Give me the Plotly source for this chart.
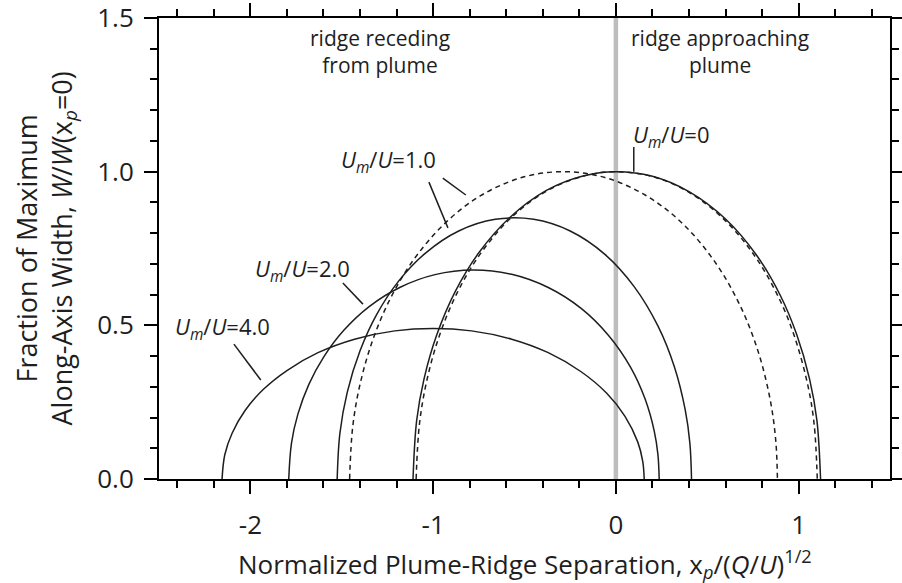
import plotly.graph_objects as go

# Along-axis width profiles W/W(x_p=0) vs normalized plume-ridge separation
# Um/U = 0 (solid)
x_u0 = [-1.11, -1.09, -1.05, -0.98, -0.88, -0.75, -0.58, -0.38, -0.18, 0.0,
        0.2, 0.4, 0.6, 0.77, 0.9, 0.99, 1.06, 1.10, 1.12]
w_u0 = [0.0, 0.191, 0.325, 0.469, 0.609, 0.736, 0.851, 0.939, 0.986, 1.0,
        0.985, 0.935, 0.846, 0.728, 0.597, 0.469, 0.325, 0.191, 0.0]

# companion dashed profile lying just inside Um/U = 0
x_u0d = [-1.093, -1.075, -1.035, -0.97, -0.87, -0.74, -0.57, -0.37, -0.17, 0.0,
         0.2, 0.4, 0.6, 0.77, 0.9, 0.98, 1.05, 1.085, 1.102]
w_u0d = [0.0, 0.178, 0.319, 0.459, 0.604, 0.734, 0.852, 0.940, 0.987, 1.0,
         0.984, 0.933, 0.840, 0.717, 0.579, 0.459, 0.306, 0.178, 0.0]

# Um/U = 1.0 (dashed)
x_u1d = [-1.457, -1.44, -1.40, -1.33, -1.23, -1.10, -0.93, -0.74, -0.52, -0.29,
         -0.06, 0.16, 0.36, 0.54, 0.68, 0.78, 0.845, 0.875, 0.884]
w_u1d = [0.0, 0.170, 0.308, 0.453, 0.592, 0.719, 0.835, 0.922, 0.980, 1.0,
         0.981, 0.924, 0.834, 0.708, 0.564, 0.412, 0.256, 0.124, 0.0]

# Um/U = 1.0 (solid)
x_u1 = [-1.525, -1.51, -1.47, -1.40, -1.31, -1.19, -1.04, -0.86, -0.66, -0.45,
        -0.25, -0.06, 0.1, 0.23, 0.32, 0.38, 0.405, 0.414]
w_u1 = [0.0, 0.149, 0.282, 0.417, 0.534, 0.643, 0.736, 0.807, 0.845, 0.845,
        0.807, 0.731, 0.626, 0.498, 0.365, 0.223, 0.116, 0.0]

# Um/U = 2.0
x_u2 = [-1.79, -1.775, -1.74, -1.68, -1.60, -1.49, -1.35, -1.18, -0.99, -0.78,
        -0.57, -0.37, -0.19, -0.04, 0.08, 0.16, 0.21, 0.23, 0.237]
w_u2 = [0.0, 0.117, 0.211, 0.308, 0.396, 0.483, 0.561, 0.624, 0.665, 0.68,
        0.666, 0.623, 0.555, 0.467, 0.364, 0.260, 0.156, 0.080, 0.0]

# Um/U = 4.0
x_u4 = [-2.155, -2.14, -2.10, -2.03, -1.93, -1.80, -1.63, -1.43, -1.21, -1.0,
        -0.79, -0.57, -0.37, -0.19, -0.05, 0.05, 0.12, 0.147, 0.155]
w_u4 = [0.0, 0.079, 0.149, 0.222, 0.291, 0.353, 0.411, 0.455, 0.482, 0.49,
        0.482, 0.455, 0.411, 0.349, 0.279, 0.204, 0.120, 0.057, 0.0]

x_ticks = [-2, -1, 0, 1]
y_ticks = [0.0, 0.5, 1.0, 1.5]
y_ticklabels = ["0.0", "0.5", "1.0", "1.5"]

INK = "#1e1e1e"
FONT = "Open Sans"

fig = go.Figure()

# ridge position marker at x_p = 0
fig.add_trace(go.Scatter(x=[0, 0], y=[0, 1.5], mode="lines",
                         line=dict(color="#bdbdbd", width=4.5), hoverinfo="skip"))

curves = [
    (x_u0, w_u0, "solid"),
    (x_u0d, w_u0d, "5px,4px"),
    (x_u1d, w_u1d, "5px,4px"),
    (x_u1, w_u1, "solid"),
    (x_u2, w_u2, "solid"),
    (x_u4, w_u4, "solid"),
]
for xs, ys, dash in curves:
    fig.add_trace(go.Scatter(x=xs, y=ys, mode="lines",
                             line=dict(color=INK, width=1.5, dash=dash,
                                       shape="spline", smoothing=1.0)))

# leader lines from labels to curves
leaders = [
    (0.098, 1.0, 0.098, 1.08),
    (-1.023, 0.966, -0.919, 0.817),
    (-0.947, 0.979, -0.821, 0.924),
    (-1.494, 0.638, -1.384, 0.569),
    (-2.09, 0.439, -1.943, 0.322),
]
for x0, y0, x1, y1 in leaders:
    fig.add_shape(type="line", x0=x0, y0=y0, x1=x1, y1=y1, xref="x", yref="y",
                  line=dict(color=INK, width=1.5))

lab = dict(family=FONT, size=22, color=INK)
labels = [
    (0.305, 1.115, "<i>U<sub>m</sub></i>/<i>U</i>=0"),
    (-1.245, 1.035, "<i>U<sub>m</sub></i>/<i>U</i>=1.0"),
    (-1.715, 0.68, "<i>U<sub>m</sub></i>/<i>U</i>=2.0"),
    (-2.15, 0.49, "<i>U<sub>m</sub></i>/<i>U</i>=4.0"),
]
for x, y, t in labels:
    fig.add_annotation(x=x, y=y, text=t, showarrow=False, font=lab,
                       xanchor="center", yanchor="middle")

region_font = dict(family=FONT, size=21, color=INK)
fig.add_annotation(x=-1.29, y=1.39, text="ridge receding<br>from plume",
                   showarrow=False, font=region_font,
                   xanchor="center", yanchor="middle")
fig.add_annotation(x=0.57, y=1.39, text="ridge approaching<br>plume",
                   showarrow=False, font=region_font,
                   xanchor="center", yanchor="middle")

# axis titles
fig.add_annotation(xref="paper", yref="paper", x=0.5, y=0, yshift=-85,
                   text="Normalized Plume-Ridge Separation, x<sub><i>p</i></sub>/(<i>Q</i>/<i>U</i>)<sup>1/2</sup>",
                   showarrow=False, font=dict(family=FONT, size=26, color=INK),
                   xanchor="center", yanchor="middle")
fig.add_annotation(xref="paper", yref="paper", x=0, y=0.5, xshift=-114,
                   text="Fraction of Maximum<br>Along-Axis Width, <i>W</i>/<i>W</i>(x<sub><i>p</i></sub>=0)",
                   showarrow=False, textangle=-90,
                   font=dict(family=FONT, size=27, color=INK),
                   xanchor="center", yanchor="middle")

axis_common = dict(showline=True, linecolor="black", linewidth=2,
                   ticks="outside", ticklen=13, tickwidth=1.5, tickcolor="black",
                   mirror="ticks", showgrid=False, zeroline=False,
                   automargin=False, ticklabeloverflow="allow",
                   tickfont=dict(family=FONT, size=26, color=INK))

fig.update_xaxes(range=[-2.5, 1.5], tickvals=x_ticks,
                 ticktext=[str(v) for v in x_ticks],
                 minor=dict(dtick=0.2, tick0=0, ticks="outside", ticklen=7,
                            tickwidth=1.5, tickcolor="black", showgrid=False),
                 ticklabelstandoff=9, **axis_common)
fig.update_yaxes(range=[0, 1.5], tickvals=y_ticks, ticktext=y_ticklabels,
                 minor=dict(dtick=0.1, tick0=0, ticks="outside", ticklen=7,
                            tickwidth=1.5, tickcolor="black", showgrid=False),
                 ticklabelstandoff=5, **axis_common)

fig.update_layout(width=902, height=583, showlegend=False,
                  margin=dict(l=159, r=12, t=18, b=104),
                  plot_bgcolor="white", paper_bgcolor="white")

fig.write_html("out.html")
